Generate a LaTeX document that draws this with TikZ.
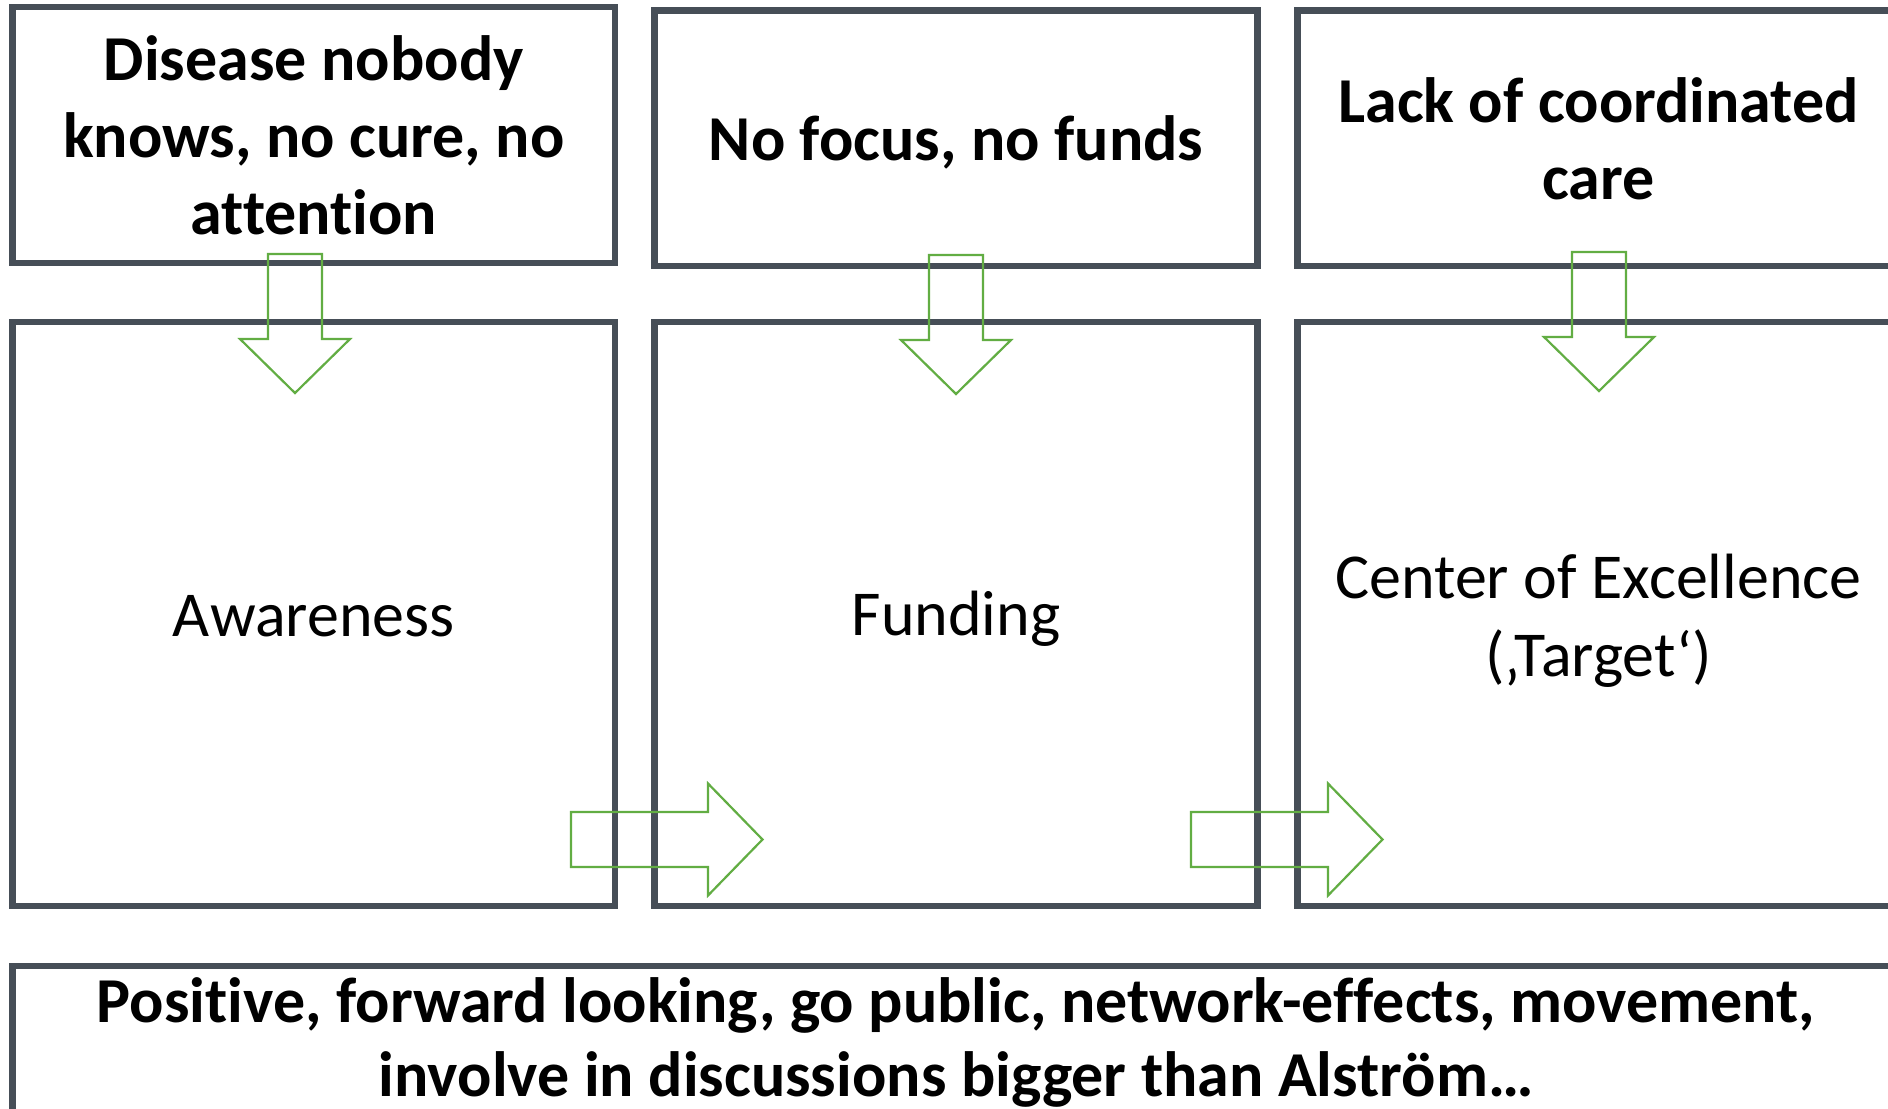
\documentclass[tikz,border=0pt]{standalone}
\usepackage{fontspec}
\setmainfont{Carlito}[Ligatures=NoCommon]
\definecolor{boxline}{HTML}{464E57}
\definecolor{arrgreen}{HTML}{62AD43}
\newcommand{\st}{\vphantom{(}}
\begin{document}
\begin{tikzpicture}[x=0.5pt,y=-0.5pt,
  box/.style={draw=boxline,line width=3.25pt,rectangle,inner sep=0pt,outer sep=0pt},
  txt/.style={align=center,inner sep=0pt,text=black},
  toptext/.style={txt,font=\bfseries\fontsize{32}{38.5}\selectfont},
  lowtext/.style={txt,font=\fontsize{32}{39}\selectfont},
  arr/.style={draw=arrgreen,line width=1.1pt,line join=miter},
  darrow/.pic={\draw[arr] (-27,0) -- (27,0) -- (27,85) -- (55,85) -- (0,139) -- (-55,85) -- (-27,85) -- cycle;},
  rarrow/.pic={\draw[arr] (0,-27.5) -- (137,-27.5) -- (137,-56) -- (191.5,0) -- (137,56) -- (137,27.5) -- (0,27.5) -- cycle;}
]
\useasboundingbox (0,0) rectangle (1888,1108);
\clip (0,0) rectangle (1888,1108);
\fill[white] (0,0) rectangle (1888,1108);
% top boxes
\node[box,minimum width=301.25pt,minimum height=128pt] (t1) at (313.75,135) {};
\node[box,minimum width=301.5pt,minimum height=127.75pt] (t2) at (956,138.25) {};
\node[box,minimum width=301pt,minimum height=127.75pt] (t3) at (1598.5,138.25) {};
\node[toptext] (t1txt) at ([yshift=-1.9pt]t1.center) {\st Disease nobody\\knows, no cure, no\\\st attention};
\node[toptext] (t2txt) at ([yshift=-1.9pt]t2.center) {\st No focus, no funds};
\node[toptext] (t3txt) at ([yshift=-2.1pt]t3.center) {\st Lack of coordinated\\\st care};
% lower boxes
\node[box,minimum width=301.25pt,minimum height=292pt] (b1) at (313.75,614) {};
\node[box,minimum width=301.5pt,minimum height=292pt] (b2) at (956,614) {};
\node[box,minimum width=301pt,minimum height=292pt] (b3) at (1598.5,614) {};
\node[lowtext] (b1txt) at ([yshift=-1.9pt]b1.center) {\st Awareness};
\node[lowtext] (b2txt) at ([yshift=-1.9pt]b2.center) {\st Funding};
\node[lowtext] (b3txt) at ([yshift=-2.7pt]b3.center) {\st Center of Excellence\\\st (‚Target‘)};
% wide box
\node[box,minimum width=943.5pt,minimum height=120pt] (w) at (956,1086) {};
\node[txt,font=\bfseries\fontsize{32}{37}\selectfont] (wt) at (956,1041) {\st Positive, forward looking, go public, network-effects, movement,\\\st involve in discussions bigger than Alström…};
% arrows
\pic at (295,254) {darrow};
\pic at (956,255) {darrow};
\pic at (1599,252) {darrow};
\pic at (571,839.5) {rarrow};
\pic at (1191,839.5) {rarrow};
\end{tikzpicture}
\end{document}
